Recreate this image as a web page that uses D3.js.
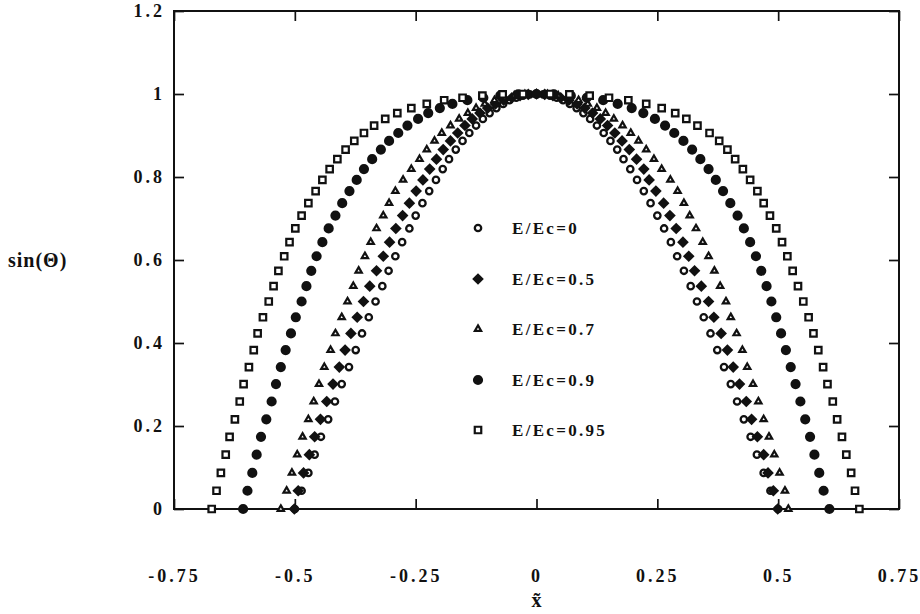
<!DOCTYPE html>
<html>
<head>
<meta charset="utf-8">
<script src="https://cdn.jsdelivr.net/npm/d3@7"></script>
<style>
  html, body { margin: 0; padding: 0; background: #fff; }
  svg text { font-family: "Liberation Serif", "DejaVu Serif", serif; font-weight: bold; fill: #111; }
</style>
</head>
<body>
<svg id="chart" width="920" height="614"></svg>
<script>
// sin(theta) levels shared by every series (one row per level)
var sinTheta = [0, 0.044, 0.087, 0.131, 0.174, 0.216, 0.259, 0.301, 0.342, 0.383, 0.423, 0.462, 0.500,
  0.537, 0.574, 0.609, 0.643, 0.676, 0.707, 0.737, 0.766, 0.793, 0.819, 0.843, 0.866, 0.887, 0.906,
  0.924, 0.940, 0.954, 0.966, 0.976, 0.985, 0.991, 0.996, 0.999, 1.000];

var seriesNames = ["E/Ec=0", "E/Ec=0.5", "E/Ec=0.7", "E/Ec=0.9", "E/Ec=0.95"];

// x positions, left branch (rising) and right branch (falling)
var xLeft0 = [-0.500, -0.486, -0.472, -0.459, -0.446, -0.431, -0.417, -0.403, -0.388, -0.374, -0.361, -0.347, -0.333,
  -0.319, -0.306, -0.292, -0.278, -0.263, -0.250, -0.236, -0.222, -0.208, -0.194, -0.181, -0.167, -0.153, -0.139,
  -0.125, -0.111, -0.097, -0.083, -0.069, -0.056, -0.042, -0.028, -0.014, 0.000];
var xRight0 = [0.500, 0.484, 0.470, 0.456, 0.443, 0.429, 0.415, 0.402, 0.388, 0.374, 0.360, 0.346, 0.332,
  0.319, 0.305, 0.291, 0.278, 0.264, 0.250, 0.236, 0.222, 0.208, 0.194, 0.180, 0.167, 0.153, 0.139,
  0.125, 0.111, 0.097, 0.083, 0.069, 0.055, 0.042, 0.028, 0.014];

var xLeft05 = [-0.501, -0.493, -0.482, -0.470, -0.459, -0.447, -0.434, -0.421, -0.408, -0.396, -0.384, -0.371, -0.358,
  -0.345, -0.331, -0.317, -0.304, -0.291, -0.277, -0.263, -0.249, -0.235, -0.221, -0.207, -0.193, -0.178, -0.163,
  -0.148, -0.133, -0.117, -0.101, -0.085, -0.068, -0.051, -0.034, -0.017, 0.000];
var xRight05 = [0.499, 0.490, 0.479, 0.470, 0.457, 0.445, 0.434, 0.420, 0.407, 0.395, 0.382, 0.367, 0.356,
  0.341, 0.327, 0.315, 0.303, 0.289, 0.276, 0.263, 0.247, 0.233, 0.222, 0.207, 0.192, 0.177, 0.162,
  0.147, 0.132, 0.116, 0.100, 0.084, 0.067, 0.050, 0.034, 0.017];

var xLeft07 = [-0.529, -0.517, -0.506, -0.495, -0.484, -0.472, -0.461, -0.450, -0.439, -0.426, -0.416, -0.403, -0.391,
  -0.379, -0.368, -0.355, -0.343, -0.331, -0.317, -0.305, -0.292, -0.276, -0.259, -0.242, -0.227, -0.211, -0.196,
  -0.178, -0.160, -0.142, -0.125, -0.107, -0.087, -0.067, -0.046, -0.024, 0.000];
var xRight07 = [0.521, 0.514, 0.503, 0.492, 0.481, 0.470, 0.459, 0.448, 0.436, 0.426, 0.414, 0.402, 0.392,
  0.380, 0.368, 0.356, 0.344, 0.330, 0.317, 0.305, 0.292, 0.277, 0.259, 0.243, 0.227, 0.211, 0.195,
  0.178, 0.160, 0.143, 0.125, 0.106, 0.087, 0.066, 0.045, 0.023];

var xLeft09 = [-0.607, -0.598, -0.588, -0.579, -0.570, -0.559, -0.548, -0.539, -0.529, -0.519, -0.508, -0.498, -0.486,
  -0.476, -0.466, -0.455, -0.443, -0.430, -0.416, -0.402, -0.387, -0.372, -0.357, -0.340, -0.322, -0.305, -0.286,
  -0.267, -0.245, -0.224, -0.200, -0.174, -0.143, -0.110, -0.075, -0.038, 0.000];
var xRight09 = [0.606, 0.594, 0.585, 0.575, 0.566, 0.556, 0.546, 0.536, 0.526, 0.516, 0.506, 0.496, 0.486,
  0.476, 0.465, 0.454, 0.442, 0.429, 0.416, 0.401, 0.386, 0.371, 0.356, 0.339, 0.322, 0.304, 0.285,
  0.266, 0.245, 0.221, 0.197, 0.168, 0.138, 0.104, 0.071, 0.036];

var xLeft095 = [-0.672, -0.662, -0.653, -0.643, -0.635, -0.624, -0.614, -0.606, -0.595, -0.585, -0.577, -0.566, -0.554,
  -0.544, -0.534, -0.522, -0.511, -0.499, -0.486, -0.472, -0.457, -0.443, -0.428, -0.412, -0.395, -0.377, -0.357,
  -0.336, -0.313, -0.288, -0.259, -0.227, -0.191, -0.153, -0.112, -0.070, -0.028];
var xRight095 = [0.668, 0.659, 0.651, 0.641, 0.632, 0.622, 0.613, 0.602, 0.593, 0.583, 0.573, 0.563, 0.552,
  0.541, 0.530, 0.519, 0.508, 0.496, 0.483, 0.470, 0.457, 0.442, 0.427, 0.411, 0.395, 0.378, 0.358,
  0.333, 0.310, 0.287, 0.259, 0.227, 0.190, 0.150, 0.110, 0.068, 0.028];

var xTicks = [-0.75, -0.5, -0.25, 0, 0.25, 0.5, 0.75];
var xTickLabels = ["-0.75", "-0.5", "-0.25", "0", "0.25", "0.5", "0.75"];
var yTicks = [0, 0.2, 0.4, 0.6, 0.8, 1, 1.2];
var yTickLabels = ["0", "0.2", "0.4", "0.6", "0.8", "1", "1.2"];

var svg = d3.select("#chart");
var ink = "#111";

var x = d3.scaleLinear().domain([-0.75, 0.75]).range([174, 899]);
var y = d3.scaleLinear().domain([0, 1.2]).range([509, 11]);

// frame with inward ticks on all four sides
svg.append("rect")
  .attr("x", x(-0.75)).attr("y", y(1.2))
  .attr("width", x(0.75) - x(-0.75)).attr("height", y(0) - y(1.2))
  .attr("fill", "none").attr("stroke", ink).attr("stroke-width", 2);

function styleAxis(g) {
  g.select(".domain").remove();
  g.selectAll(".tick line").attr("stroke", ink).attr("stroke-width", 1.7);
  g.selectAll(".tick text")
    .attr("fill", ink)
    .style("font-size", "18px")
    .style("letter-spacing", "3px");
}

svg.append("g")
  .attr("transform", "translate(0," + y(0) + ")")
  .call(d3.axisBottom(x).tickValues(xTicks).tickFormat(function(d, i) { return xTickLabels[i]; })
    .tickSize(-10).tickSizeOuter(0).tickPadding(60))
  .call(styleAxis);

svg.append("g")
  .attr("transform", "translate(0," + y(1.2) + ")")
  .call(d3.axisTop(x).tickValues(xTicks).tickFormat("").tickSize(-10).tickSizeOuter(0))
  .call(styleAxis);

svg.append("g")
  .attr("transform", "translate(" + x(-0.75) + ",0)")
  .call(d3.axisLeft(y).tickValues(yTicks).tickFormat(function(d, i) { return yTickLabels[i]; })
    .tickSize(-10).tickSizeOuter(0).tickPadding(9))
  .call(styleAxis);

svg.append("g")
  .attr("transform", "translate(" + x(0.75) + ",0)")
  .call(d3.axisRight(y).tickValues(yTicks).tickFormat("").tickSize(-10).tickSizeOuter(0))
  .call(styleAxis);

// axis titles
svg.append("text")
  .attr("x", 8).attr("y", y(0.6) + 7)
  .style("font-size", "20px")
  .style("letter-spacing", "1px")
  .text("sin(\u0398)");

svg.append("text")
  .attr("x", x(0)).attr("y", 607)
  .attr("text-anchor", "middle")
  .style("font-size", "20px")
  .text("x\u0303");

// marker per series
var markers = [
  { path: d3.symbol(d3.symbolCircle, Math.PI * 3.2 * 3.2)(), fill: "#fff", stroke: ink, sw: 2.3, rot: 0 },
  { path: d3.symbol(d3.symbolSquare, 68)(), fill: ink, stroke: "none", sw: 0, rot: 45 },
  { path: d3.symbol(d3.symbolTriangle, 17)(), fill: "#fff", stroke: ink, sw: 2.2, rot: 0 },
  { path: d3.symbol(d3.symbolCircle, Math.PI * 26)(), fill: ink, stroke: "none", sw: 0, rot: 0 },
  { path: d3.symbol(d3.symbolSquare, 42)(), fill: "#fff", stroke: ink, sw: 2.2, rot: 0 }
];

var branches = [
  [xLeft0, xRight0], [xLeft05, xRight05], [xLeft07, xRight07], [xLeft09, xRight09], [xLeft095, xRight095]
];

var series = branches.map(function(b, s) {
  var pts = b[0].map(function(v, i) { return { x: v, y: sinTheta[i] }; })
    .concat(b[1].map(function(v, i) { return { x: v, y: sinTheta[i] }; }));
  return { name: seriesNames[s], marker: markers[s], points: pts };
});

var plot = svg.append("g");
series.forEach(function(s) {
  plot.append("g").selectAll("path")
    .data(s.points)
    .enter().append("path")
    .attr("d", s.marker.path)
    .attr("transform", function(d) {
      return "translate(" + x(d.x) + "," + y(d.y) + ") rotate(" + s.marker.rot + ")";
    })
    .attr("fill", s.marker.fill)
    .attr("stroke", s.marker.stroke)
    .attr("stroke-width", s.marker.sw);
});

// legend
var legendY = [228, 279, 329, 380, 430];
var legend = svg.append("g");
series.forEach(function(s, i) {
  legend.append("path")
    .attr("d", s.marker.path)
    .attr("transform", "translate(478," + legendY[i] + ") rotate(" + s.marker.rot + ")")
    .attr("fill", s.marker.fill)
    .attr("stroke", s.marker.stroke)
    .attr("stroke-width", s.marker.sw);
  legend.append("text")
    .attr("x", 512).attr("y", legendY[i]).attr("dy", "0.36em")
    .style("font-size", "17px")
    .style("letter-spacing", "2.3px")
    .text(s.name);
});
</script>
</body>
</html>
